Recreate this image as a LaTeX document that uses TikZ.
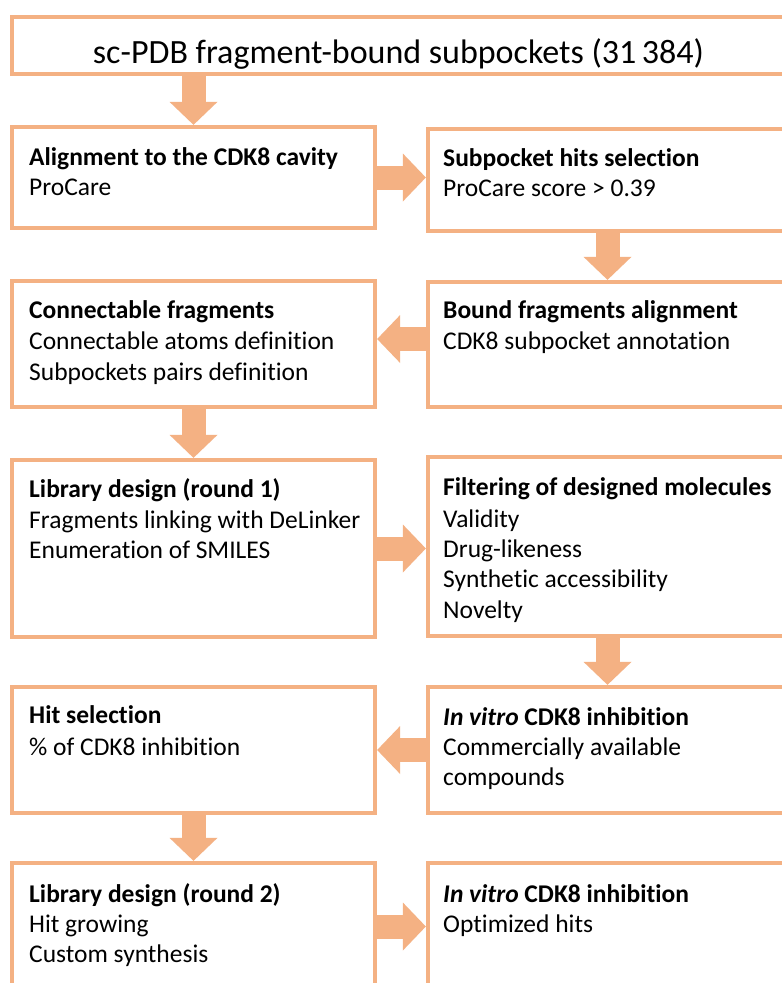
\documentclass[tikz,border=0pt]{standalone}
\usepackage{fontspec}
\setmainfont{Carlito}[RawFeature={-liga;-clig;-ccmp;-calt;-dlig;-rlig}]
\usetikzlibrary{arrows.meta,calc}
\definecolor{boxor}{RGB}{244,177,131}
\begin{document}
\begin{tikzpicture}[x=1pt,y=-1pt,
  box/.style={draw=boxor, line width=4.3pt, inner sep=0pt, rectangle, minimum width=363pt},
  rbox/.style={box, minimum width=359pt},
  fat/.style={draw=boxor, line width=24pt, -{Triangle[length=23pt,width=48pt,line width=0pt]}},
  txt/.style={anchor=base west, inner sep=0pt, font=\fontsize{25.5}{30}\selectfont},
  hd/.style={txt, font=\fontsize{25.5}{30}\selectfont\bfseries}]
\useasboundingbox (0,0) rectangle (782,983);
\clip (0,0) rectangle (782,983);
\fill[white] (0,0) rectangle (782,983);

% boxes
\node[box, minimum width=773pt, minimum height=57pt] (T) at (398.5,45.5) {};
\node[box, minimum height=101pt] (L1) at (193.5,177.5) {};
\node[rbox, minimum height=102pt] (R1) at (607.5,180) {};
\node[box, minimum height=126pt] (L2) at (193.5,344) {};
\node[rbox, minimum height=125pt] (R2) at (607.5,344.5) {};
\node[box, minimum height=177pt] (L3) at (193.5,548.5) {};
\node[rbox, minimum height=179pt] (R3) at (607.5,546.5) {};
\node[box, minimum height=126pt] (L4) at (193.5,750) {};
\node[rbox, minimum height=126pt] (R4) at (607.5,750) {};
\node[box, minimum height=127pt] (L5) at (193.5,926.5) {};
\node[rbox, minimum height=127pt] (R5) at (607.5,926.5) {};

% arrows
\draw[fat] (T.south -| L1.north) -- (L1.north);
\draw[fat] (L1.east) -- (R1.west |- L1.east);
\draw[fat] (R1.south) -- (R2.north);
\draw[fat] ([yshift=5.5pt]R2.west) -- ([yshift=5.5pt]R2.west -| L2.east);
\draw[fat] (L2.south) -- (L3.north);
\draw[fat] (L3.east) -- (L3.east -| R3.west);
\draw[fat] (R3.south) -- (R4.north);
\draw[fat] (R4.west) -- (L4.east);
\draw[fat] (L4.south) -- (L5.north);
\draw[fat] (L5.east) -- (R5.west);

% texts
\node[anchor=base, inner sep=0pt, font=\fontsize{34}{40}\selectfont] (t0) at (398.5,63) {sc-PDB fragment-bound subpockets (31\,384)};

\node[hd] (t1a) at (29,165) {Alignment to the CDK8 cavity};
\node[txt] (t1b) at (29,195) {ProCare};
\node[hd] (t2a) at (443,166) {Subpocket hits selection};
\node[txt] (t2b) at (443,196) {ProCare score > 0.39};

\node[hd] (t3a) at (29,318) {Connectable fragments};
\node[txt] (t3b) at (29,349) {Connectable atoms definition};
\node[txt] (t3c) at (29,380) {Subpockets pairs definition};
\node[hd] (t4a) at (443,318) {Bound fragments alignment};
\node[txt] (t4b) at (443,349) {CDK8 subpocket annotation};

\node[hd] (t5a) at (29,497) {Library design (round 1)};
\node[txt] (t5b) at (29,528) {Fragments linking with DeLinker};
\node[txt] (t5c) at (29,558) {Enumeration of SMILES};
\node[hd] (t6a) at (443,495) {Filtering of designed molecules};
\node[txt] (t6b) at (443,527) {Validity};
\node[txt] (t6c) at (443,557) {Drug-likeness};
\node[txt] (t6d) at (443,587) {Synthetic accessibility};
\node[txt] (t6e) at (443,618) {Novelty};

\node[hd] (t7a) at (29,723) {Hit selection};
\node[txt] (t7b) at (29,755) {\% of CDK8 inhibition};
\node[hd] (t8a) at (443,725) {\textit{In vitro} CDK8 inhibition};
\node[txt] (t8b) at (443,755) {Commercially available};
\node[txt] (t8c) at (443,785) {compounds};

\node[hd] (t9a) at (29,902) {Library design (round 2)};
\node[txt] (t9b) at (29,932) {Hit growing};
\node[txt] (t9c) at (29,962) {Custom synthesis};
\node[hd] (t10a) at (443,902) {\textit{In vitro} CDK8 inhibition};
\node[txt] (t10b) at (443,932) {Optimized hits};
\end{tikzpicture}
\end{document}
